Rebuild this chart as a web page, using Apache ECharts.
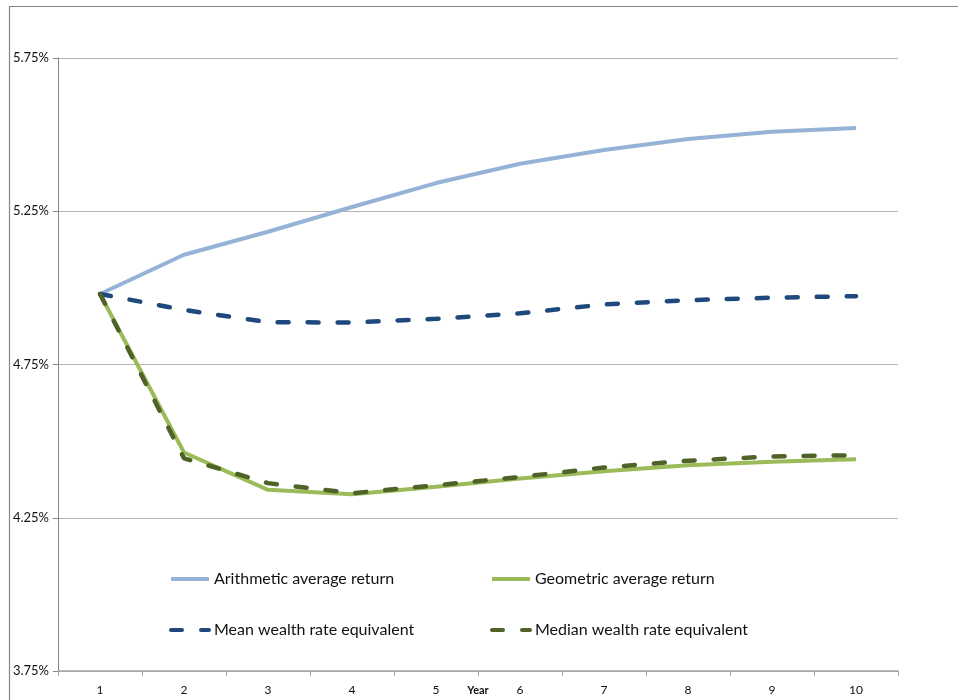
<!DOCTYPE html>
<html>
<head>
<meta charset="utf-8">
<script src="https://cdn.jsdelivr.net/npm/echarts@6/dist/echarts.min.js"></script>
<style>html,body{margin:0;padding:0;background:#fff}#c{width:958px;height:700px}</style>
</head>
<body>
<div id="c"></div>
<script>
var years = ['1','2','3','4','5','6','7','8','9','10'];
var arithmetic = [4.98, 5.108, 5.183, 5.264, 5.342, 5.405, 5.450, 5.486, 5.509, 5.522];
var geometric  = [4.98, 4.463, 4.341, 4.327, 4.351, 4.378, 4.402, 4.421, 4.433, 4.441];
var meanWealth = [4.98, 4.928, 4.888, 4.887, 4.899, 4.917, 4.946, 4.960, 4.968, 4.973];
var medianWealth = [4.98, 4.444, 4.363, 4.330, 4.356, 4.383, 4.414, 4.436, 4.450, 4.454];
var yTicks = {min: 3.75, max: 5.75, interval: 0.5};
var xTitle = 'Year';
var names = ['Arithmetic average return','Geometric average return','Mean wealth rate equivalent','Median wealth rate equivalent'];

var chart = echarts.init(document.getElementById('c'));
var font = 'Lato, "Open Sans", sans-serif';
var dash = [11, 19];
function leg(name, left, top) {
  return {
    data: [name], left: left, top: top, itemWidth: 38, itemHeight: 14,
    selectedMode: false,
    itemStyle: {opacity: 0},
    lineStyle: {width: 4},
    textStyle: {fontFamily: font, fontSize: 16, color: '#111'}
  };
}
chart.setOption({
  animation: false,
  backgroundColor: '#fff',
  graphic: [{
    type: 'rect', silent: true,
    shape: {x: 9.5, y: 6.5, width: 1100, height: 900},
    style: {fill: 'none', stroke: '#868686', lineWidth: 1.2}
  }, {
    type: 'text', silent: true, x: 478, y: 690,
    style: {text: xTitle, font: 'bold 11px ' + font, fill: '#111', align: 'center', verticalAlign: 'middle'}
  }],
  legend: [
    leg(names[0], 164, 566),
    leg(names[1], 485, 566),
    leg(names[2], 164, 617),
    leg(names[3], 485, 617)
  ],
  grid: {left: 58, right: 60, top: 58, bottom: 29, containLabel: false, outerBoundsMode: 'none'},
  xAxis: {
    type: 'category', data: years, boundaryGap: true,
    axisLine: {lineStyle: {color: '#a6a6a6', width: 1.5}},
    axisTick: {show: true, length: 5, lineStyle: {color: '#a6a6a6'}},
    axisLabel: {fontFamily: font, fontSize: 12, color: '#111', margin: 13},
    splitLine: {show: false}
  },
  yAxis: {
    type: 'value', min: yTicks.min, max: yTicks.max, interval: yTicks.interval,
    axisLine: {show: true, lineStyle: {color: '#868686', width: 1}},
    axisTick: {show: true, length: 5, lineStyle: {color: '#868686'}},
    axisLabel: {fontFamily: font, fontSize: 13, color: '#111', margin: 9,
      formatter: function (v) { return v.toFixed(2) + '%'; }},
    splitLine: {show: true, lineStyle: {color: '#b3b3b3', width: 1}}
  },
  series: [
    {name: names[0], type: 'line', data: arithmetic, symbol: 'none', z: 2,
      lineStyle: {color: '#95B3D7', width: 4}, itemStyle: {color: '#95B3D7'}},
    {name: names[1], type: 'line', data: geometric, symbol: 'none', z: 2,
      lineStyle: {color: '#9BBB59', width: 4}, itemStyle: {color: '#9BBB59'}},
    {name: names[2], type: 'line', data: meanWealth, symbol: 'none', z: 3,
      lineStyle: {color: '#1F497D', width: 4.5, type: dash, cap: 'round'}, itemStyle: {color: '#1F497D'}},
    {name: names[3], type: 'line', data: medianWealth, symbol: 'none', z: 3,
      lineStyle: {color: '#4F6228', width: 4.5, type: dash, cap: 'round'}, itemStyle: {color: '#4F6228'}}
  ]
});
</script>
</body>
</html>
